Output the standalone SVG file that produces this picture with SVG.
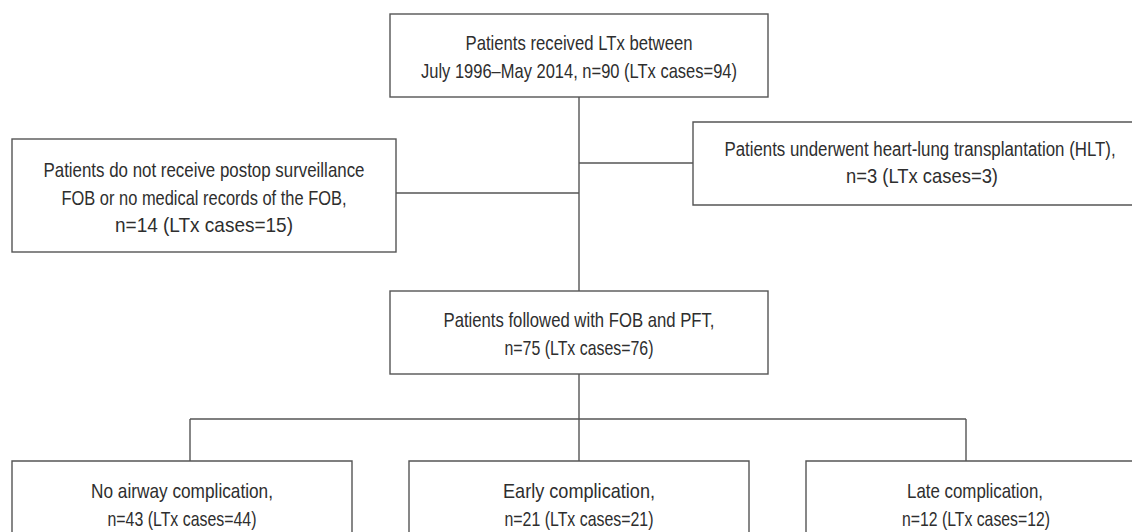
<svg xmlns="http://www.w3.org/2000/svg" width="1132" height="532" viewBox="0 0 1132 532">
<style>
.box{fill:#fff;stroke:#555;stroke-width:1.4}
.ln{fill:none;stroke:#555;stroke-width:1.4}
text{font-family:"Liberation Sans",Arial,sans-serif;font-size:21px;fill:#2e2e2e;text-anchor:middle}
</style>
<rect width="1132" height="532" fill="#fff"/>
<g id="connectors">
<path class="ln" d="M579 97V291M579 163H693M579 193H396M579 374V461M190 419H966M190 419V461M966 419V461"/>
</g>
<g id="n-top">
<rect class="box" x="390" y="14" width="378" height="83"/>
<text x="579" y="50" textLength="227" lengthAdjust="spacingAndGlyphs">Patients received LTx between</text>
<text x="579" y="78" textLength="316" lengthAdjust="spacingAndGlyphs">July 1996–May 2014, n=90 (LTx cases=94)</text>
</g>
<g id="n-left">
<rect class="box" x="12" y="139" width="384" height="113"/>
<text x="204" y="177" textLength="321" lengthAdjust="spacingAndGlyphs">Patients do not receive postop surveillance</text>
<text x="204" y="205" textLength="285" lengthAdjust="spacingAndGlyphs">FOB or no medical records of the FOB,</text>
<text x="204" y="232" textLength="178" lengthAdjust="spacingAndGlyphs">n=14 (LTx cases=15)</text>
</g>
<g id="n-right">
<path class="box" d="M1132 122H693V205H1132"/>
<text transform="translate(920,156) scale(0.8,1)" textLength="489" lengthAdjust="spacingAndGlyphs">Patients underwent heart-lung transplantation (HLT),</text>
<text x="922" y="183" textLength="152" lengthAdjust="spacingAndGlyphs">n=3 (LTx cases=3)</text>
</g>
<g id="n-mid">
<rect class="box" x="390" y="291" width="378" height="83"/>
<text x="579" y="327" textLength="271" lengthAdjust="spacingAndGlyphs">Patients followed with FOB and PFT,</text>
<text x="579" y="355" textLength="149" lengthAdjust="spacingAndGlyphs">n=75 (LTx cases=76)</text>
</g>
<g id="n-none">
<path class="box" d="M12 532V461H352V532"/>
<text x="182" y="498" textLength="182" lengthAdjust="spacingAndGlyphs">No airway complication,</text>
<text x="182" y="526" textLength="149" lengthAdjust="spacingAndGlyphs">n=43 (LTx cases=44)</text>
</g>
<g id="n-early">
<path class="box" d="M409 532V461H749V532"/>
<text x="579" y="498" textLength="152" lengthAdjust="spacingAndGlyphs">Early complication,</text>
<text x="579" y="526" textLength="149" lengthAdjust="spacingAndGlyphs">n=21 (LTx cases=21)</text>
</g>
<g id="n-late">
<path class="box" d="M806 532V461H1132"/>
<text x="975" y="498" textLength="136" lengthAdjust="spacingAndGlyphs">Late complication,</text>
<text x="976" y="526" textLength="148" lengthAdjust="spacingAndGlyphs">n=12 (LTx cases=12)</text>
</g>
</svg>
